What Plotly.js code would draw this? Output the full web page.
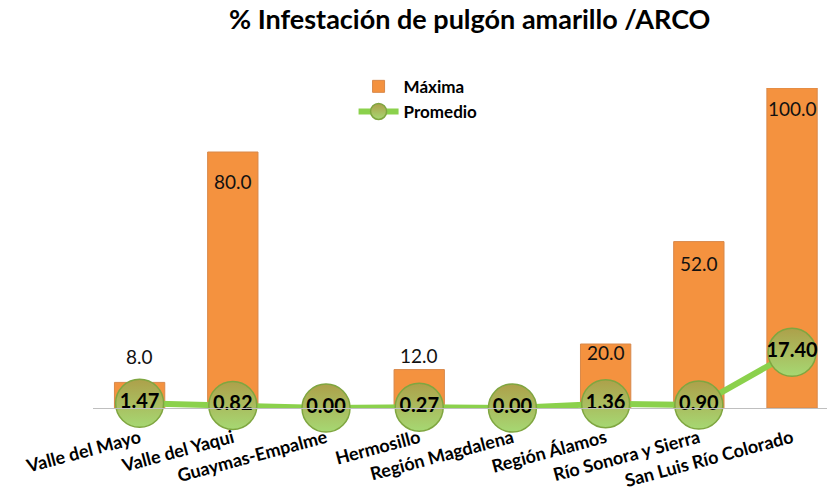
<!DOCTYPE html>
<html>
<head>
<meta charset="utf-8">
<script src="https://cdn.plot.ly/plotly-3.0.1.min.js"></script>
<style>html,body{margin:0;padding:0;background:#fff;}#chart{width:827px;height:493px;}</style>
</head>
<body>
<div id="chart"></div>
<script>
const categories = ["Valle del Mayo","Valle del Yaqui","Guaymas-Empalme","Hermosillo","Región Magdalena","Región Álamos","Río Sonora y Sierra","San Luis Río Colorado"];
const maxima = [8, 80, null, 12, null, 20, 52, 100];
const promedio = [1.47, 0.82, 0.00, 0.27, 0.00, 1.36, 0.90, 17.40];
const maxLabelShift = [26, -29, 0, 14, 0, -8, -22, -20];

const FONT = "Lato, 'Open Sans', sans-serif";

const bars = {
  type: 'bar', name: 'Máxima', x: categories, y: maxima,
  width: 0.54,
  marker: {color: '#F4923F', line: {color: '#D8884A', width: 1}},
  hoverinfo: 'skip'
};
const line = {
  type: 'scatter', mode: 'lines+markers+text', name: 'Promedio',
  x: categories, y: promedio,
  text: promedio.map(v => v.toFixed(2)),
  textposition: 'middle center',
  textfont: {family: FONT, size: 20, color: '#000', weight: 'bold'},
  line: {color: '#8BD14C', width: 6},
  marker: {size: 48, color: '#ADA04A', line: {color: '#7FA640', width: 1.5},
           gradient: {type: 'vertical', color: '#A6D873'}},
  cliponaxis: false,
  hoverinfo: 'skip'
};

const annotations = [];
maxima.forEach((v, i) => {
  if (v === null) return;
  annotations.push({x: categories[i], y: v, xref: 'x', yref: 'y', text: v.toFixed(1),
    showarrow: false, yanchor: 'middle', yshift: maxLabelShift[i],
    font: {family: FONT, size: 19, color: '#111'}});
});

const layout = {
  width: 827, height: 493,
  margin: {l: 93, r: 0, t: 88, b: 85},
  paper_bgcolor: '#fff', plot_bgcolor: '#fff',
  font: {family: FONT},
  title: {text: '<b>% Infestación de pulgón amarillo /ARCO</b>',
          x: 0.568, xanchor: 'center', xref: 'container',
          y: 0.961, yanchor: 'middle', yref: 'container',
          font: {family: FONT, size: 27, color: '#000'}},
  xaxis: {type: 'category', range: [-0.5, 7.375], tickangle: -15,
          showline: true, linecolor: '#BFBFBF', linewidth: 1,
          ticks: 'outside', ticklen: 12, tickcolor: 'rgba(0,0,0,0)',
          showgrid: false, zeroline: false,
          tickfont: {family: FONT, size: 18, color: '#000', weight: 'bold'}},
  yaxis: {range: [0, 100], visible: false, showgrid: false, zeroline: false},
  showlegend: true,
  legend: {x: 0.355, y: 1.06, xanchor: 'left', yanchor: 'top', itemwidth: 40,
           bgcolor: 'rgba(0,0,0,0)', tracegroupgap: 0,
           font: {family: FONT, size: 17, color: '#000', weight: 'bold'}},
  annotations: annotations,
  bargap: 0.46
};

Plotly.newPlot('chart', [bars, line], layout, {displayModeBar: false, staticPlot: true});
</script>
</body>
</html>
